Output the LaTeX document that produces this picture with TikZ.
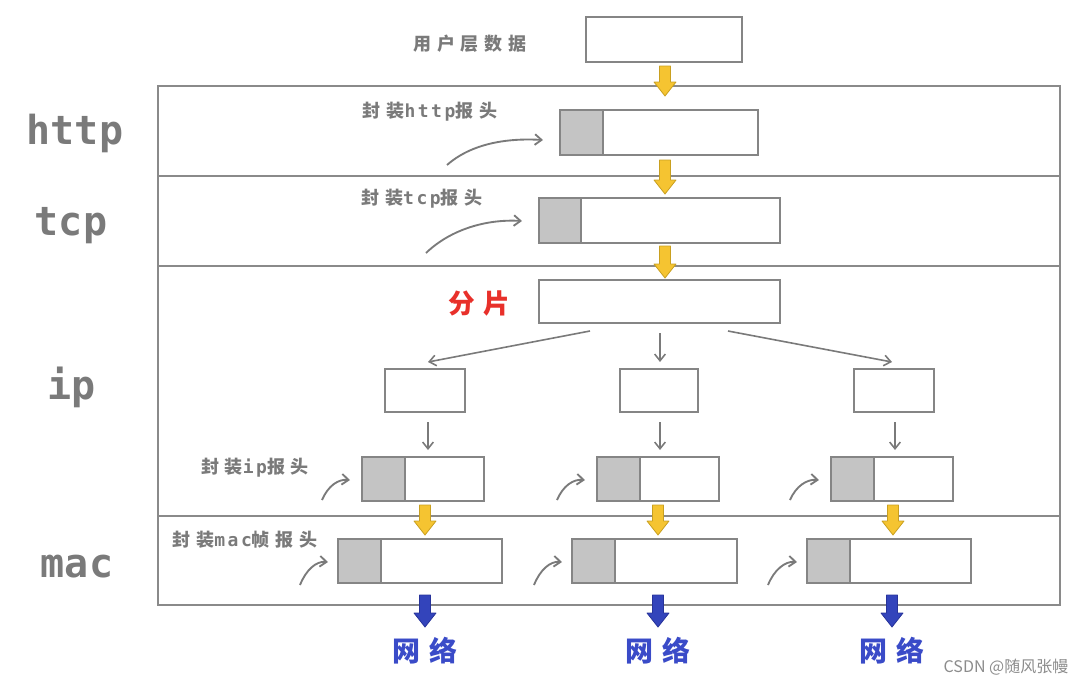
\documentclass[tikz,border=0pt]{standalone}
\usepackage{fontspec}
\usetikzlibrary{arrows.meta,calc}
\newfontfamily\cjk{Noto Sans CJK SC}
\newfontfamily\cjksp[LetterSpace=32]{Noto Sans CJK SC}
\newfontfamily\monob{DejaVu Sans Mono}
\newfontfamily\monosp[LetterSpace=14]{DejaVu Sans Mono}
\definecolor{boxc}{HTML}{858585}
\definecolor{framec}{HTML}{8A8A8A}
\definecolor{hdrc}{HTML}{C4C4C4}
\definecolor{txtc}{HTML}{7A7A7A}
\definecolor{redc}{HTML}{E8302A}
\definecolor{bluec}{HTML}{3A4BC8}
\definecolor{yelf}{HTML}{F5C431}
\definecolor{yeld}{HTML}{C9A020}
\definecolor{bluf}{HTML}{3344BB}
\definecolor{blud}{HTML}{27339A}
\definecolor{arrc}{HTML}{7A7A7A}
\newcommand\fatarr[5]{%
  \filldraw[fill=#4,draw=#5,line width=0.6pt,line join=round]
    ({#1-5.5},#2) -- ({#1+5.5},#2) -- ({#1+5.5},{#3-14}) -- ({#1+11},{#3-14})
    -- (#1,#3) -- ({#1-11},{#3-14}) -- ({#1-5.5},{#3-14}) -- cycle;}
\newcommand\lt[1]{{\monosp\bfseries\fontsize{13.5}{13.5}\selectfont #1}}
\begin{document}
\begin{tikzpicture}[x=0.75pt,y=-0.75pt,
  pbox/.style={draw=boxc,line width=1.5pt,fill=white,inner sep=0pt,outer sep=0pt,anchor=north west},
  hbox/.style={pbox,fill=hdrc},
  band/.style={draw=framec,line width=1.5pt,inner sep=0pt,outer sep=0pt,anchor=north west,minimum width=676.5pt},
  lay/.style={text=txtc,font=\monob\bfseries\fontsize{30}{30}\selectfont},
  lab/.style={text=txtc,font=\cjksp\bfseries\fontsize{13.5}{13.5}\selectfont},
  thin/.style={draw=arrc,line width=1.2pt,-{Straight Barb[length=5pt,width=8pt]}},
  curv/.style={draw=arrc,line width=1.4pt,-{Straight Barb[length=5pt,width=8pt]}}]
\useasboundingbox (0,0) rectangle (1089,690);
% layer bands
\node[band,minimum height=67.5pt] (bhttp) at (158,86) {};
\node[band,minimum height=67.5pt] (btcp) at (158,176) {};
\node[band,minimum height=187.5pt] (bip) at (158,266) {};
\node[band,minimum height=66.75pt] (bmac) at (158,516) {};
% layer names
\node[lay] (Lhttp) at (75,133) {http};
\node[lay] (Ltcp) at (71,226) {tcp};
\node[lay] (Lip) at (72,387) {ip};
\node[lay] (Lmac) at (77,567) {mac};
% user data
\node[pbox,minimum width=117pt,minimum height=33.75pt] (user) at (586,17) {};
\node[lab] (tuser) at (470,44) {用户层数据};
% http
\node[hbox,minimum width=32.25pt,minimum height=33.75pt] (hg) at (560,110) {};
\node[pbox,minimum width=116.25pt,minimum height=33.75pt] (hw) at (603,110) {};
\node[lab] (thttp) at (430,112) {封装\lt{http}报头};
\coordinate (hs) at (447,165);
\draw[curv] (hs) .. controls +(25,-22) and +(-35,-2) .. ($(hg.west)+(-17,7.5)$);
% tcp
\node[hbox,minimum width=31.5pt,minimum height=33.75pt] (tg) at (539,198) {};
\node[pbox,minimum width=149.25pt,minimum height=33.75pt] (tw) at (581,198) {};
\node[lab] (ttcp) at (422,199) {封装\lt{tcp}报头};
\coordinate (ts) at (426,253);
\draw[curv] (ts) .. controls +(25,-24) and +(-35,-2) .. ($(tg.west)+(-17,0.5)$);
% fat arrows top
\fatarr{665}{66}{96}{yelf}{yeld}
\fatarr{665}{160}{194}{yelf}{yeld}
\fatarr{665}{246}{278}{yelf}{yeld}
% fragmentation
\node[pbox,minimum width=180.75pt,minimum height=32.25pt] (frag) at (539,280) {};
\node[text=redc,font=\cjksp\bfseries\fontsize{20}{20}\selectfont] (tfrag) at (479,303) {分片};
\node[pbox,minimum width=60pt,minimum height=32.25pt] (s1) at (385,369) {};
\node[pbox,minimum width=58.5pt,minimum height=32.25pt] (s2) at (620,369) {};
\node[pbox,minimum width=60pt,minimum height=32.25pt] (s3) at (854,369) {};
\draw[thin] ($(frag.south west)+(51,8)$) -- ($(s1.north)+(3,-7)$);
\draw[thin] ($(frag.south)+(0.5,10)$) -- ($(s2.north)+(1,-7)$);
\draw[thin] ($(frag.south east)+(-52,8)$) -- ($(s3.north)+(-2,-7)$);
\draw[thin] ($(s1.south)+(3,10)$) -- ($(s1.south)+(3,38)$);
\draw[thin] ($(s2.south)+(1,10)$) -- ($(s2.south)+(1,38)$);
\draw[thin] ($(s3.south)+(1,10)$) -- ($(s3.south)+(1,38)$);
% ip
\node[hbox,minimum width=32.25pt,minimum height=33pt] (ig1) at (362,457) {};
\node[pbox,minimum width=59.25pt,minimum height=33pt] (iw1) at (405,457) {};
\node[hbox,minimum width=32.25pt,minimum height=33pt] (ig2) at (597,457) {};
\node[pbox,minimum width=59.25pt,minimum height=33pt] (iw2) at (640,457) {};
\node[hbox,minimum width=32.25pt,minimum height=33pt] (ig3) at (831,457) {};
\node[pbox,minimum width=59.25pt,minimum height=33pt] (iw3) at (874,457) {};
\node[lab] (tip) at (255,468) {封装\lt{ip}报头};
\coordinate (is1) at (322,500);
\coordinate (is2) at (557,500);
\coordinate (is3) at (790,500);
\draw[curv] (is1) .. controls +(6,-14) and +(-12,-1) .. ($(ig1.west)+(-12,1)$);
\draw[curv] (is2) .. controls +(6,-14) and +(-12,-1) .. ($(ig2.west)+(-12,1)$);
\draw[curv] (is3) .. controls +(6,-14) and +(-12,-1) .. ($(ig3.west)+(-12,1)$);
\fatarr{425}{505}{535}{yelf}{yeld}
\fatarr{658}{505}{535}{yelf}{yeld}
\fatarr{893}{505}{535}{yelf}{yeld}
% mac
\node[hbox,minimum width=32.25pt,minimum height=33pt] (mg1) at (338,539) {};
\node[pbox,minimum width=90.75pt,minimum height=33pt] (mw1) at (381,539) {};
\node[hbox,minimum width=32.25pt,minimum height=33pt] (mg2) at (572,539) {};
\node[pbox,minimum width=91.5pt,minimum height=33pt] (mw2) at (615,539) {};
\node[hbox,minimum width=32.25pt,minimum height=33pt] (mg3) at (807,539) {};
\node[pbox,minimum width=90.75pt,minimum height=33pt] (mw3) at (850,539) {};
\node[lab] (tmac) at (245,540) {封装\lt{mac}帧报头};
\coordinate (ms1) at (300,585);
\coordinate (ms2) at (534,585);
\coordinate (ms3) at (768,585);
\draw[curv] (ms1) .. controls +(6,-15) and +(-12,-1) .. ($(mg1.west)+(-10,1)$);
\draw[curv] (ms2) .. controls +(6,-15) and +(-12,-1) .. ($(mg2.west)+(-10,1)$);
\draw[curv] (ms3) .. controls +(6,-15) and +(-12,-1) .. ($(mg3.west)+(-10,1)$);
\fatarr{425}{595}{627}{bluf}{blud}
\fatarr{658}{595}{627}{bluf}{blud}
\fatarr{892}{595}{627}{bluf}{blud}
\node[text=bluec,font=\cjksp\bfseries\fontsize{21}{21}\selectfont] (n1) at (425,651) {网络};
\node[text=bluec,font=\cjksp\bfseries\fontsize{21}{21}\selectfont] (n2) at (658,651) {网络};
\node[text=bluec,font=\cjksp\bfseries\fontsize{21}{21}\selectfont] (n3) at (892,651) {网络};
\node[text=black!45,font=\cjk\fontsize{12}{12}\selectfont] (wm) at (1006,667) {CSDN @随风张幔};
\end{tikzpicture}
\end{document}
